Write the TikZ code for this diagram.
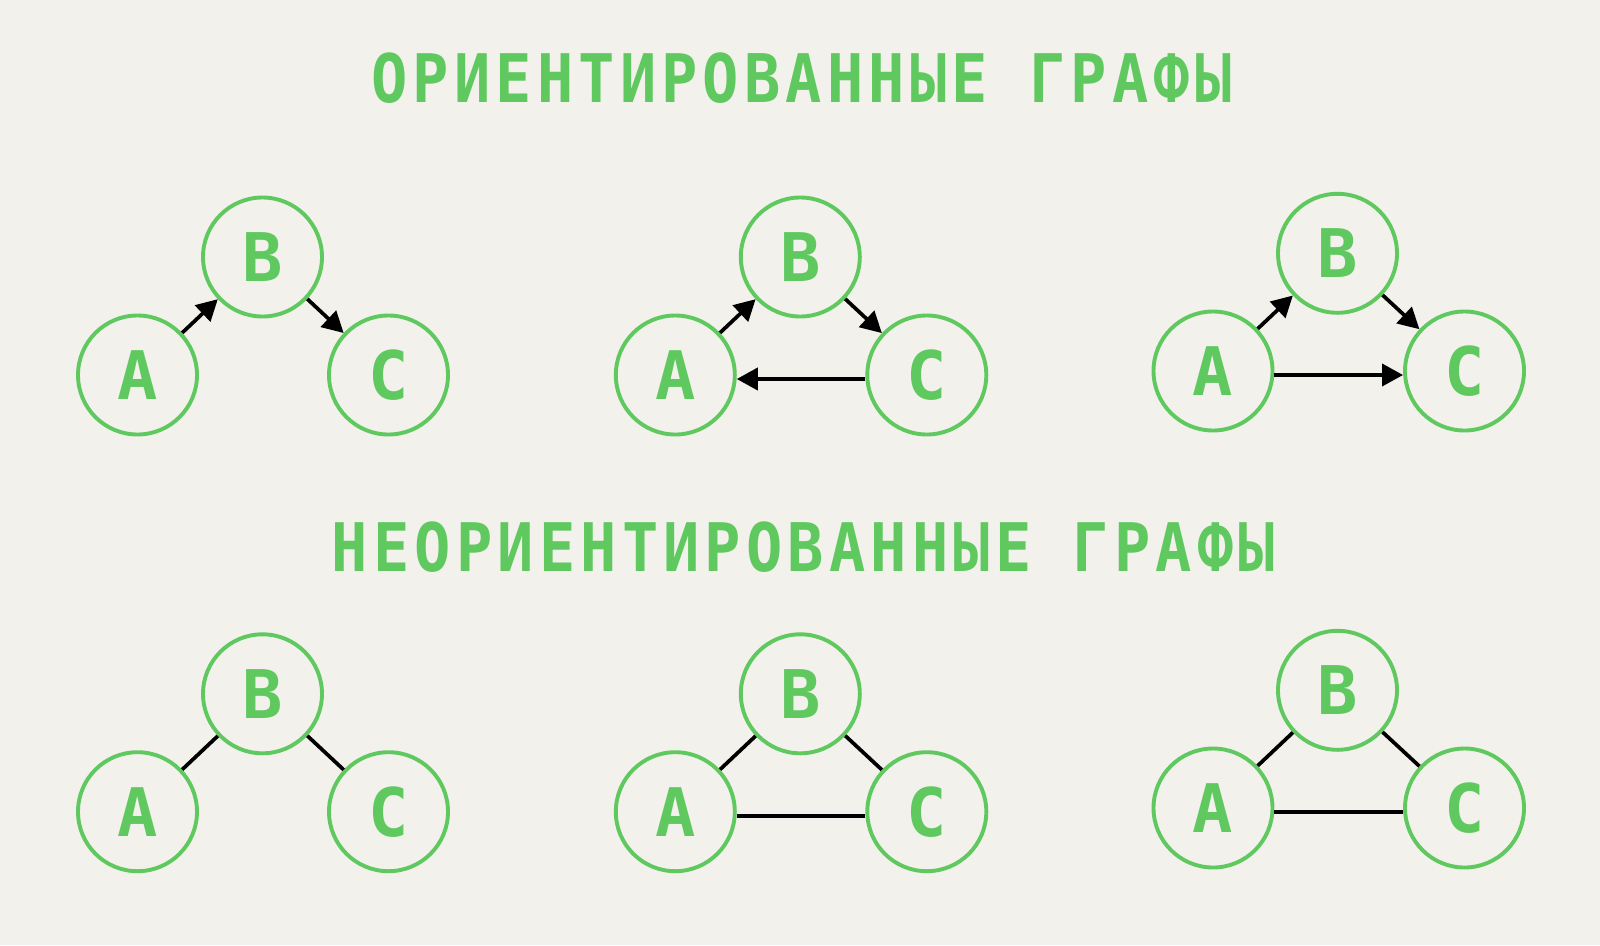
\documentclass[tikz,border=0pt]{standalone}
\usepackage{fontspec}
\usetikzlibrary{arrows.meta}
\newfontfamily\titlefont[FakeStretch=0.9,LetterSpace=7.7]{DejaVu Sans Mono}
\newfontfamily\letterfont{DejaVu Sans Mono}
\definecolor{grn}{RGB}{95,201,95}
\definecolor{bgc}{RGB}{242,241,236}
\tikzset{
  vtx/.style={circle, draw=grn, line width=3.9pt, minimum size=119pt, inner sep=0pt,
    text=grn, font=\letterfont\bfseries\fontsize{67}{70}\selectfont},
  ttl/.style={text=grn, anchor=base, inner sep=0pt,
    font=\titlefont\bfseries\fontsize{67}{70}\selectfont},
  arr/.style={line width=3.7pt, -{Triangle[length=21pt,width=22pt]}},
  edg/.style={line width=3.7pt},
}
\begin{document}
\begin{tikzpicture}[x=1pt,y=-1pt]
\fill[bgc] (0,0) rectangle (1600,945);
\useasboundingbox (0,0) rectangle (1600,945);
% titles
\node[ttl] (t1) at (801.5,102) {ОРИЕНТИРОВАННЫЕ ГРАФЫ};
\node[ttl] (t2) at (803.5,571) {НЕОРИЕНТИРОВАННЫЕ ГРАФЫ};
% top row
\node[vtx] (a1) at (137.5,375) {A};
\node[vtx] (b1) at (262.5,257) {B};
\node[vtx] (c1) at (388.5,375) {C};
\node[vtx] (a2) at (675.3,375) {A};
\node[vtx] (b2) at (800.3,257) {B};
\node[vtx] (c2) at (926.8,375) {C};
\node[vtx] (a3) at (1213,371) {A};
\node[vtx] (b3) at (1337.5,253.3) {B};
\node[vtx] (c3) at (1464.5,371) {C};
\draw[arr] (a1) -- (b1);
\draw[arr] (b1) -- (c1);
\draw[arr] (a2) -- (b2);
\draw[arr] (b2) -- (c2);
\draw[arr] ([yshift=-4pt]c2.west) -- ([yshift=-4pt]a2.east);
\draw[arr] (a3) -- (b3);
\draw[arr] (b3) -- (c3);
\draw[arr] ([yshift=-4pt]a3.east) -- ([yshift=-4pt]c3.west);
% bottom row
\node[vtx] (a4) at (137.5,811.7) {A};
\node[vtx] (b4) at (262.5,693.8) {B};
\node[vtx] (c4) at (388.5,811.7) {C};
\node[vtx] (a5) at (675.3,811.7) {A};
\node[vtx] (b5) at (800.3,693.8) {B};
\node[vtx] (c5) at (926.8,811.7) {C};
\node[vtx] (a6) at (1213,808) {A};
\node[vtx] (b6) at (1337.5,690.3) {B};
\node[vtx] (c6) at (1464.5,808) {C};
\draw[edg] (a4) -- (b4);
\draw[edg] (b4) -- (c4);
\draw[edg] (a5) -- (b5);
\draw[edg] (b5) -- (c5);
\draw[edg] ([yshift=-4pt]a5.east) -- ([yshift=-4pt]c5.west);
\draw[edg] (a6) -- (b6);
\draw[edg] (b6) -- (c6);
\draw[edg] ([yshift=-4pt]a6.east) -- ([yshift=-4pt]c6.west);
\end{tikzpicture}
\end{document}
